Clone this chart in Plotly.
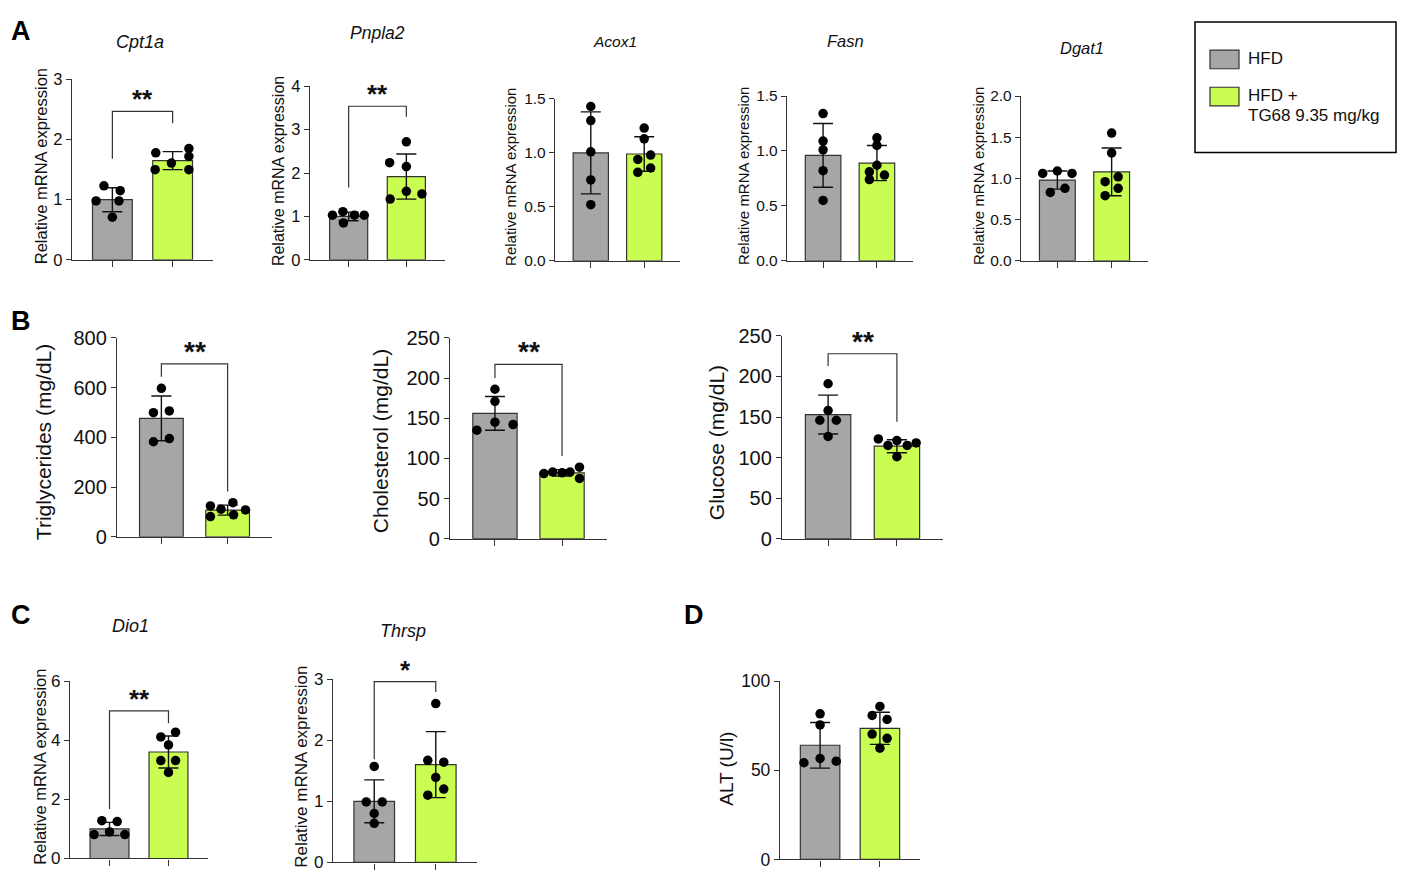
import plotly.graph_objects as go

# ---- data (group order: HFD, HFD + TG68) ----
groups = ["HFD", "HFD + TG68 9.35 mg/kg"]

# A: liver gene expression
cpt1a_hfd = [1.23, 1.15, 0.98, 0.98, 0.71]
cpt1a_tg68 = [1.78, 1.85, 1.72, 1.50, 1.61, 1.50]
cpt1a_mean = [1.00, 1.65]
cpt1a_sd = [0.20, 0.15]

pnpla2_hfd = [1.03, 1.11, 1.03, 1.03, 0.85]
pnpla2_tg68 = [2.72, 2.24, 2.15, 1.40, 1.58, 1.52]
pnpla2_mean = [1.00, 1.92]
pnpla2_sd = [0.10, 0.52]

acox1_hfd = [1.43, 1.30, 1.01, 0.75, 0.52]
acox1_tg68 = [1.23, 1.13, 0.94, 0.98, 0.82, 0.86]
acox1_mean = [1.00, 0.99]
acox1_sd = [0.38, 0.16]

fasn_hfd = [1.34, 1.09, 1.01, 0.82, 0.55]
fasn_tg68 = [1.12, 1.05, 0.87, 0.81, 0.78, 0.74]
fasn_mean = [0.96, 0.89]
fasn_sd = [0.29, 0.16]

dgat1_hfd = [1.06, 1.09, 1.06, 0.83, 0.88]
dgat1_tg68 = [1.55, 1.31, 1.02, 0.96, 0.88, 0.79]
dgat1_mean = [0.98, 1.08]
dgat1_sd = [0.11, 0.29]

# B: serum biochemistry
tg_hfd = [597, 499, 506, 382, 395]
tg_tg68 = [124, 111, 137, 108, 81, 88]
tg_mean = [476, 107]
tg_sd = [90, 20]

chol_hfd = [186, 171, 135, 145, 142]
chol_tg68 = [81, 83, 82, 83, 89, 75]
chol_mean = [156, 82]
chol_sd = [21, 4]

glu_hfd = [191, 158, 146, 146, 126]
glu_tg68 = [123, 115, 121, 115, 118, 101]
glu_mean = [153, 114]
glu_sd = [24, 8]

# C: thyroid hormone target genes
dio1_hfd = [1.28, 1.25, 0.81, 0.90, 0.81]
dio1_tg68 = [4.11, 4.27, 3.84, 3.31, 3.31, 2.91]
dio1_mean = [1.00, 3.60]
dio1_sd = [0.22, 0.54]

thrsp_hfd = [1.57, 0.99, 0.99, 0.80, 0.64]
thrsp_tg68 = [2.60, 1.67, 1.64, 1.39, 1.20, 1.10]
thrsp_mean = [1.00, 1.60]
thrsp_sd = [0.35, 0.54]

# D: ALT
alt_hfd = [81.6, 75.4, 54.2, 56.6, 55.1]
alt_tg68 = [85.8, 80.7, 78.5, 70.3, 67.9, 62.4]
alt_mean = [64.0, 73.5]
alt_sd = [12.8, 9.0]

# significance: (bracket top, left leg end, right leg end, label)
cpt1a_sig = (2.47, 1.68, 2.27, "**")
pnpla2_sig = (3.54, 1.67, 3.30, "**")
tg_sig = (695, 643, 182, "**")
chol_sig = (217, 200, 103, "**")
glu_sig = (228, 213, 144, "**")
dio1_sig = (4.99, 1.67, 4.57, "**")
thrsp_sig = (2.96, 1.69, 2.79, "*")

# horizontal scatter of the dots inside each bar (x offsets)
cpt1a_dx = ([-0.14, 0.13, -0.27, 0.11, 0.0], [-0.28, 0.27, 0.27, -0.29, -0.02, 0.27])
pnpla2_dx = ([-0.28, -0.10, 0.10, 0.27, -0.09], [0.0, -0.29, 0.0, -0.28, 0.0, 0.27])
acox1_dx = ([0, 0, 0, 0, 0], [0, 0, -0.12, 0.12, -0.12, 0.12])
fasn_dx = ([0, 0, 0, 0, 0], [0, 0, 0, -0.14, 0.14, -0.14])
dgat1_dx = ([-0.27, 0, 0.27, -0.13, 0.14], [0, 0, 0.12, -0.12, 0.12, -0.12])
tg_dx = ([0, -0.12, 0.12, -0.12, 0.12], [-0.26, -0.10, 0.08, 0.27, -0.26, 0.09])
chol_dx = ([0, 0, -0.27, 0, 0.27], [-0.27, -0.14, 0, 0.12, 0.26, 0.26])
glu_dx = ([0, 0, -0.12, 0.12, 0], [-0.27, -0.13, 0, 0.15, 0.28, 0])
dio1_dx = ([-0.13, 0.13, -0.26, 0, 0.26], [-0.13, 0.12, 0, -0.13, 0.12, 0])
thrsp_dx = ([0, -0.13, 0.13, 0, 0], [0, -0.13, 0.13, 0, 0.13, -0.13])
alt_dx = ([0, 0, -0.27, 0, 0.27], [0, -0.13, 0.12, -0.13, 0.12, 0])

W, H = 1407, 881
OFF = 8  # page margin around the figure in the browser
FONT = "Arial, Liberation Sans, sans-serif"
GRAY = "#a6a6a6"
GREEN = "#c9fd52"
INK = "#333333"
TXT = "#111111"
MRNA = "Relative mRNA expression"


def fx(x):
    return (x - OFF) / W


def fy(y):
    return 1 - (y - OFF) / H


# panel layout in pixels: plot box (left, right, top, bottom), y axis, titles
panels = [
    dict(pts=(cpt1a_hfd, cpt1a_tg68), dx=cpt1a_dx, mean=cpt1a_mean, sd=cpt1a_sd, sig=cpt1a_sig,
         box=(72, 213, 70, 255), ymax=3, dtick=1, fmt="", tsize=16.5,
         ytitle=MRNA, ysize=16.5, ypos=(41, 159), title=("Cpt1a", 140, 32, 18), star=26),
    dict(pts=(pnpla2_hfd, pnpla2_tg68), dx=pnpla2_dx, mean=pnpla2_mean, sd=pnpla2_sd, sig=pnpla2_sig,
         box=(310, 445, 77, 255), ymax=4, dtick=1, fmt="", tsize=16.5,
         ytitle=MRNA, ysize=16, ypos=(278, 164), title=("Pnpla2", 377, 22, 17.5), star=26),
    dict(pts=(acox1_hfd, acox1_tg68), dx=acox1_dx, mean=acox1_mean, sd=acox1_sd, sig=None,
         box=(555, 680, 90, 256), ymax=1.5, dtick=0.5, fmt=".1f", tsize=15.5,
         ytitle=MRNA, ysize=15, ypos=(511, 170), title=("Acox1", 615, 31, 15.5), star=26),
    dict(pts=(fasn_hfd, fasn_tg68), dx=fasn_dx, mean=fasn_mean, sd=fasn_sd, sig=None,
         box=(787, 913, 87, 256), ymax=1.5, dtick=0.5, fmt=".1f", tsize=15.5,
         ytitle=MRNA, ysize=15, ypos=(744, 169), title=("Fasn", 845, 31, 16.5), star=26),
    dict(pts=(dgat1_hfd, dgat1_tg68), dx=dgat1_dx, mean=dgat1_mean, sd=dgat1_sd, sig=None,
         box=(1021, 1148, 87, 256), ymax=2, dtick=0.5, fmt=".1f", tsize=15.5,
         ytitle=MRNA, ysize=15, ypos=(979, 169), title=("Dgat1", 1082, 38, 16.5), star=26),
    dict(pts=(tg_hfd, tg_tg68), dx=tg_dx, mean=tg_mean, sd=tg_sd, sig=tg_sig,
         box=(117, 272, 335, 539), ymax=800, dtick=200, fmt="", tsize=20,
         ytitle="Triglycerides (mg/dL)", ysize=21, ypos=(43, 442), title=None, star=28),
    dict(pts=(chol_hfd, chol_tg68), dx=chol_dx, mean=chol_mean, sd=chol_sd, sig=chol_sig,
         box=(450, 607, 335, 541), ymax=250, dtick=50, fmt="", tsize=20,
         ytitle="Cholesterol (mg/dL)", ysize=21, ypos=(380, 441), title=None, star=28),
    dict(pts=(glu_hfd, glu_tg68), dx=glu_dx, mean=glu_mean, sd=glu_sd, sig=glu_sig,
         box=(782, 943, 333, 541), ymax=250, dtick=50, fmt="", tsize=20,
         ytitle="Glucose (mg/dL)", ysize=21, ypos=(716, 443), title=None, star=28),
    dict(pts=(dio1_hfd, dio1_tg68), dx=dio1_dx, mean=dio1_mean, sd=dio1_sd, sig=dio1_sig,
         box=(70, 208, 687, 869), ymax=6, dtick=2, fmt="", tsize=17,
         ytitle=MRNA, ysize=16.5, ypos=(40, 775), title=("Dio1", 130, 631, 18), star=26),
    dict(pts=(thrsp_hfd, thrsp_tg68), dx=thrsp_dx, mean=thrsp_mean, sd=thrsp_sd, sig=thrsp_sig,
         box=(333, 477, 685, 873), ymax=3, dtick=1, fmt="", tsize=17,
         ytitle=MRNA, ysize=17, ypos=(302, 775), title=("Thrsp", 403, 636, 18), star=26),
    dict(pts=(alt_hfd, alt_tg68), dx=alt_dx, mean=alt_mean, sd=alt_sd, sig=None,
         box=(780, 920, 687, 870), ymax=100, dtick=50, fmt="", tsize=17.5,
         ytitle="ALT (U/l)", ysize=19, ypos=(727, 777), title=None, star=26),
]

fig = go.Figure()
shapes, annotations, axes = [], [], {}

for i, p in enumerate(panels, start=1):
    xa, ya = f"x{i}", f"y{i}"
    # bars with mean and SD
    fig.add_trace(go.Bar(
        x=[0, 1], y=p["mean"], width=0.66, xaxis=xa, yaxis=ya,
        marker=dict(color=[GRAY, GREEN], line=dict(color=INK, width=1.2)),
        error_y=dict(type="data", array=p["sd"], color=TXT, thickness=1.4, width=10),
        showlegend=False, hoverinfo="skip",
    ))
    # individual animals
    for g in range(2):
        fig.add_trace(go.Scatter(
            x=[g + d for d in p["dx"][g]], y=p["pts"][g], mode="markers",
            xaxis=xa, yaxis=ya, cliponaxis=False,
            marker=dict(color="black", size=9.5), showlegend=False, name=groups[g],
        ))
    x0, x1, y0, y1 = p["box"]
    sfx = "" if i == 1 else str(i)
    axes[f"xaxis{sfx}"] = dict(
        domain=[fx(x0), fx(x1)], range=[-0.67, 1.67], anchor=ya,
        tickvals=[0, 1], showticklabels=False, ticks="outside", ticklen=6,
        tickcolor=INK, tickwidth=1.3, showline=True, linecolor=INK, linewidth=1.3,
        showgrid=False, zeroline=False, fixedrange=True,
    )
    axes[f"yaxis{sfx}"] = dict(
        domain=[fy(y1), fy(y0)], range=[0, p["ymax"]], anchor=xa,
        tick0=0, dtick=p["dtick"], tickformat=p["fmt"], ticks="outside", ticklen=5,
        tickcolor=INK, tickwidth=1.3, showline=True, linecolor=INK, linewidth=1.3,
        showgrid=False, zeroline=False, fixedrange=True,
        tickfont=dict(size=p["tsize"], color=TXT),
    )
    annotations.append(dict(
        text=p["ytitle"], x=fx(p["ypos"][0]), y=fy(p["ypos"][1]), xref="paper", yref="paper",
        textangle=-90, showarrow=False, xanchor="center", yanchor="middle",
        font=dict(size=p["ysize"], color=TXT),
    ))
    if p["title"]:
        t, tx, ty, ts = p["title"]
        annotations.append(dict(
            text=f"<i>{t}</i>", x=fx(tx), y=fy(ty), xref="paper", yref="paper",
            showarrow=False, xanchor="center", yanchor="middle", font=dict(size=ts, color=TXT),
        ))
    if p["sig"]:
        top, l0, l1, lab = p["sig"]
        shapes.append(dict(
            type="path", xref=xa, yref=ya, line=dict(color=INK, width=1.2),
            path=f"M 0,{l0} L 0,{top} L 1,{top} L 1,{l1}",
        ))
        annotations.append(dict(
            text=f"<b>{lab}</b>", x=0.5, y=top, xref=xa, yref=ya, showarrow=False,
            xanchor="center", yanchor="bottom", yshift=-5,
            font=dict(size=p["star"], color=TXT),
        ))

# panel letters (the figure cannot reach the page margin, so they start at its edge)
for lab, lx, ly, anc in [("A", 9, 20, "left"), ("B", 9, 318, "left"),
                         ("C", 9, 619, "left"), ("D", 694, 619, "center")]:
    annotations.append(dict(
        text=f"<b>{lab}</b>", x=fx(lx), y=fy(ly), xref="paper", yref="paper",
        showarrow=False, xanchor=anc, yanchor="middle", font=dict(size=27, color="black"),
    ))

# legend box drawn by hand
shapes.append(dict(type="rect", xref="paper", yref="paper", x0=fx(1195), x1=fx(1396),
                   y0=fy(145), y1=fy(11), line=dict(color="black", width=1.5)))
for col, top in [(GRAY, 40), (GREEN, 78)]:
    shapes.append(dict(type="rect", xref="paper", yref="paper", x0=fx(1210), x1=fx(1239),
                       y0=fy(top + 19), y1=fy(top), fillcolor=col,
                       line=dict(color=INK, width=1.2)))
for txt, ty in [("HFD", 49), ("HFD +", 86), ("TG68 9.35 mg/kg", 107)]:
    annotations.append(dict(
        text=txt, x=fx(1246), y=fy(ty), xref="paper", yref="paper", showarrow=False,
        xanchor="left", yanchor="middle", font=dict(size=17, color=TXT),
    ))

fig.update_layout(
    width=W, height=H, margin=dict(l=0, r=0, t=0, b=0),
    paper_bgcolor="white", plot_bgcolor="white",
    font=dict(family=FONT, color=TXT),
    shapes=shapes, annotations=annotations, showlegend=False,
    **axes,
)

fig.write_html("out.html")
